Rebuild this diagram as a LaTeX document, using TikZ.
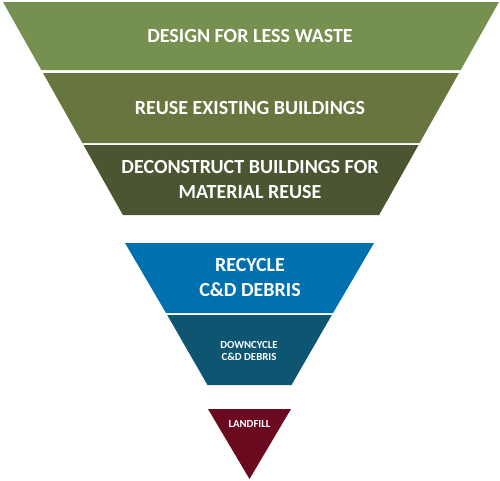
\documentclass[tikz,border=0pt]{standalone}
\usepackage{fontspec}
\setmainfont{Carlito}
\definecolor{gA}{HTML}{76904F}
\definecolor{gB}{HTML}{67753F}
\definecolor{gC}{HTML}{4A5632}
\definecolor{bA}{HTML}{0070AE}
\definecolor{bB}{HTML}{0E5571}
\definecolor{rA}{HTML}{6B0A1E}
\tikzset{
  lbl/.style={text=white, font=\bfseries, align=center, inner sep=0pt},
  big/.style={lbl, font=\fontsize{20}{25}\selectfont\bfseries},
  small/.style={lbl, font=\fontsize{10.8}{12.5}\selectfont\bfseries},
}
\begin{document}
\begin{tikzpicture}[x=1pt,y=-1pt]
\useasboundingbox (0,0) rectangle (500,480);
% green funnel
\fill[gA] (3,2) -- (499,2) -- (460.7,70) -- (41.3,70) -- cycle;
\fill[gB] (43,73) -- (459,73) -- (419.6,143) -- (82.4,143) -- cycle;
\fill[gC] (83.5,145) -- (418.5,145) -- (379.1,215) -- (122.9,215) -- cycle;
% blue funnel
\fill[bA] (125,243) -- (374,243) -- (333,313) -- (166,313) -- cycle;
\fill[bB] (167.2,315) -- (331.8,315) -- (291.5,385) -- (207.5,385) -- cycle;
% landfill
\fill[rA] (208,409) -- (291,409) -- (249.5,479) -- cycle;
% labels
\node[big] (design) at (250,36) {DESIGN FOR LESS WASTE};
\node[big] (reuse) at (250,108) {REUSE EXISTING BUILDINGS};
\node[big] (decon) at (250,180) {DECONSTRUCT BUILDINGS FOR\\MATERIAL REUSE};
\node[big] (recycle) at (250,277.5) {RECYCLE\\C\&D DEBRIS};
\node[small] (down) at (249,351) {DOWNCYCLE\\C\&D DEBRIS};
\node[small] (land) at (249.5,423.5) {LANDFILL};
\end{tikzpicture}
\end{document}
